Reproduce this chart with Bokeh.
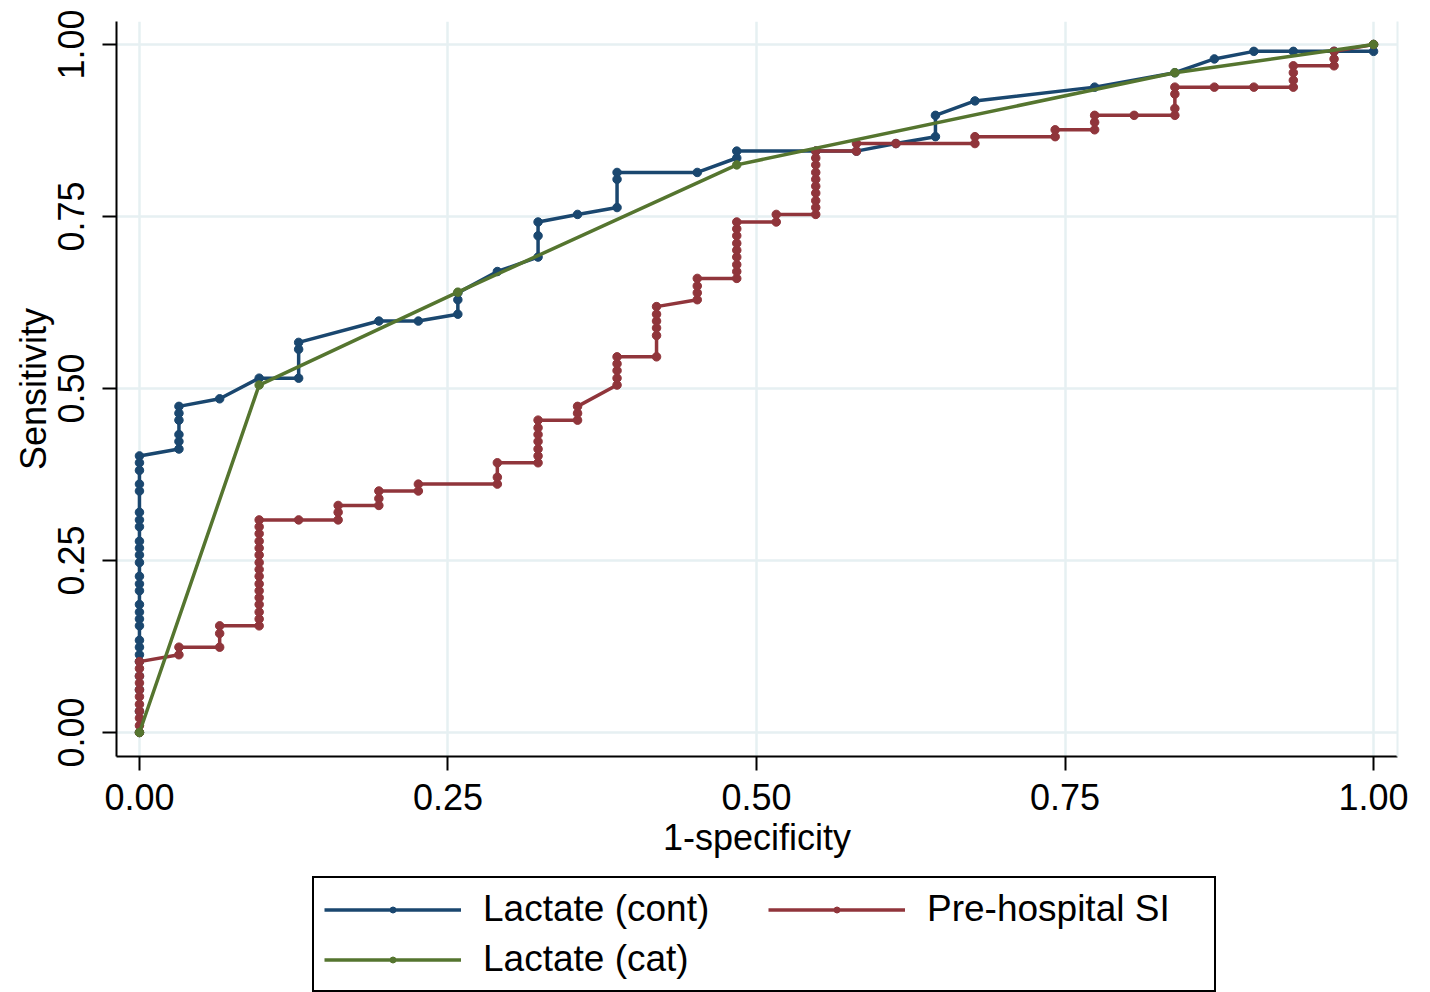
from bokeh.plotting import figure
from bokeh.layouts import column
from bokeh.models import (Range1d, FixedTicker, Legend, LegendItem, LinearAxis,
                          NumeralTickFormatter)
from bokeh.embed import file_html
from bokeh.resources import INLINE

# ---------------- data ----------------
tick_values = [0.0, 0.25, 0.5, 0.75, 1.0]

# Lactate (cont)
cont_x = [0.000, 0.000, 0.000, 0.000, 0.000, 0.000, 0.000, 0.000, 0.000, 0.000,
          0.000, 0.000, 0.000, 0.000, 0.000, 0.000, 0.000, 0.000, 0.000, 0.000,
          0.000, 0.000, 0.000, 0.000, 0.000, 0.000, 0.000,
          0.032, 0.032, 0.032, 0.032, 0.032, 0.032,
          0.065, 0.097, 0.129, 0.129, 0.129, 0.194, 0.226, 0.258, 0.258, 0.258,
          0.290, 0.323, 0.323, 0.323, 0.355, 0.387, 0.387, 0.387, 0.452,
          0.484, 0.484, 0.548, 0.581, 0.613, 0.645, 0.645, 0.677, 0.774, 0.839,
          0.871, 0.903, 0.935, 0.968, 1.000, 1.000]
cont_y = [0.000, 0.031, 0.062, 0.082, 0.103, 0.113, 0.124, 0.134, 0.155, 0.165,
          0.175, 0.186, 0.206, 0.216, 0.227, 0.247, 0.258, 0.268, 0.278, 0.299,
          0.309, 0.320, 0.351, 0.361, 0.381, 0.392, 0.402,
          0.412, 0.423, 0.433, 0.454, 0.464, 0.474,
          0.485, 0.515, 0.515, 0.557, 0.567, 0.598, 0.598, 0.608, 0.629, 0.639,
          0.670, 0.691, 0.722, 0.742, 0.753, 0.763, 0.804, 0.814, 0.814,
          0.835, 0.845, 0.845, 0.845, 0.856, 0.866, 0.897, 0.918, 0.938, 0.959,
          0.979, 0.990, 0.990, 0.990, 0.990, 1.000]

# Pre-hospital SI
si_x = [0.000] * 11 + [0.032, 0.032, 0.065, 0.065, 0.065] + [0.097] * 16 + \
       [0.129, 0.161, 0.161, 0.161, 0.194, 0.194, 0.194, 0.226, 0.226,
        0.290, 0.290, 0.290] + [0.323] * 7 + [0.355, 0.355, 0.355] + \
       [0.387] * 5 + [0.419] * 6 + [0.452] * 4 + [0.484] * 9 + \
       [0.516, 0.516] + [0.548] * 10 + \
       [0.581, 0.581, 0.613, 0.677, 0.677, 0.742, 0.742, 0.774, 0.774, 0.774,
        0.806, 0.839, 0.839, 0.839, 0.839, 0.871, 0.903,
        0.935, 0.935, 0.935, 0.935, 0.968, 0.968, 0.968, 1.000]
si_y = [0.000, 0.010, 0.021, 0.031, 0.041, 0.052, 0.062, 0.072, 0.082, 0.093, 0.103,
        0.113, 0.124, 0.124, 0.144, 0.155,
        0.155, 0.165, 0.175, 0.186, 0.196, 0.206, 0.216, 0.227, 0.237, 0.247,
        0.258, 0.268, 0.278, 0.289, 0.299, 0.309,
        0.309, 0.309, 0.320, 0.330, 0.330, 0.340, 0.351, 0.351, 0.361,
        0.361, 0.371, 0.392,
        0.392, 0.402, 0.412, 0.423, 0.433, 0.443, 0.454,
        0.454, 0.464, 0.474,
        0.505, 0.515, 0.526, 0.536, 0.546,
        0.546, 0.577, 0.588, 0.598, 0.608, 0.619,
        0.629, 0.639, 0.649, 0.660,
        0.660, 0.670, 0.680, 0.691, 0.701, 0.711, 0.722, 0.732, 0.742,
        0.742, 0.753,
        0.753, 0.763, 0.773, 0.784, 0.794, 0.804, 0.814, 0.825, 0.835, 0.845,
        0.845, 0.856, 0.856, 0.856, 0.866, 0.866, 0.876, 0.876, 0.887, 0.897,
        0.897, 0.897, 0.907, 0.928, 0.938, 0.938, 0.938,
        0.938, 0.948, 0.959, 0.969, 0.969, 0.979, 0.990, 1.000]

# Lactate (cat)
cat_x = [0.000, 0.097, 0.258, 0.484, 0.839, 1.000]
cat_y = [0.000, 0.505, 0.640, 0.825, 0.959, 1.000]

series_names = ["Lactate (cont)", "Pre-hospital SI", "Lactate (cat)"]

# ---------------- styling ----------------
BLUE = "#1a476f"
RED = "#90353b"
GREEN = "#55752f"
GRID = "#e6f0f2"
FONT = "Liberation Sans"

p = figure(frame_width=1281, frame_height=735,
           output_backend="svg", toolbar_location=None,
           x_range=Range1d(-0.0186, 1.0194), y_range=Range1d(-0.0349, 1.0334),
           min_border_left=116, min_border_top=21, min_border_right=33,
           min_border_bottom=115)
p.outline_line_color = None
p.background_fill_color = "white"
p.border_fill_color = "white"

for ax, label in ((p.xaxis[0], "1-specificity"), (p.yaxis[0], "Sensitivity")):
    ax.ticker = FixedTicker(ticks=tick_values)
    ax.formatter = NumeralTickFormatter(format="0.00")
    ax.axis_label = label
    ax.axis_label_text_font = FONT
    ax.axis_label_text_font_style = "normal"
    ax.axis_label_text_font_size = "36px"
    ax.axis_label_text_color = "black"
    ax.major_label_text_font = FONT
    ax.major_label_text_font_size = "36px"
    ax.major_label_text_color = "black"
    ax.axis_line_width = 2
    ax.axis_line_color = "black"
    ax.major_tick_line_width = 2
    ax.major_tick_line_color = "black"
    ax.major_tick_out = 14
    ax.major_tick_in = 0
    ax.minor_tick_line_color = None

p.xaxis[0].major_label_standoff = 13
p.xaxis[0].axis_label_standoff = 4
p.yaxis[0].major_label_orientation = "vertical"
p.yaxis[0].major_label_standoff = 18
p.yaxis[0].axis_label_standoff = 2

for g in (p.xgrid[0], p.ygrid[0]):
    g.grid_line_color = GRID
    g.grid_line_width = 2.5

# faint right edge of the plot region
right = LinearAxis(ticker=FixedTicker(ticks=[]), axis_line_color=GRID,
                   axis_line_width=2, major_tick_line_color=None,
                   minor_tick_line_color=None, major_label_text_font_size="0px")
p.add_layout(right, "right")

series = [(cont_x, cont_y, BLUE), (si_x, si_y, RED), (cat_x, cat_y, GREEN)]
for xs, ys, col in series:
    p.line(xs, ys, line_color=col, line_width=3.5)
    p.scatter(xs, ys, size=8.5, fill_color=col, line_color=col)

# ---------------- legend strip below the chart ----------------
# same series drawn again, but outside this strip's visible range, only to
# feed the legend glyphs
q = figure(frame_width=1430, frame_height=121, output_backend="svg",
           toolbar_location=None, x_range=Range1d(10, 11), y_range=Range1d(10, 11),
           min_border=0)
q.axis.visible = False
q.grid.visible = False
q.outline_line_color = None
q.border_fill_color = "white"

items = []
for name, (xs, ys, col) in zip(series_names, series):
    ln = q.line(xs, ys, line_color=col, line_width=3.5)
    mk = q.scatter(xs, ys, size=6, fill_color=col, line_color=col)
    items.append(LegendItem(label=name, renderers=[ln, mk]))

legend = Legend(items=items, orientation="horizontal", ncols=2,
                location=(312, 0),
                label_text_font=FONT, label_text_font_size="37px",
                label_text_color="black",
                glyph_width=137, glyph_height=15, label_height=42,
                label_width=277, label_standoff=22, spacing=8, padding=10,
                margin=0, border_line_color="black", border_line_width=2,
                border_line_alpha=1.0,
                background_fill_color="white", background_fill_alpha=1.0)
q.add_layout(legend)

layout = column(p, q, spacing=0)
open("out.html", "w").write(file_html(layout, INLINE))
